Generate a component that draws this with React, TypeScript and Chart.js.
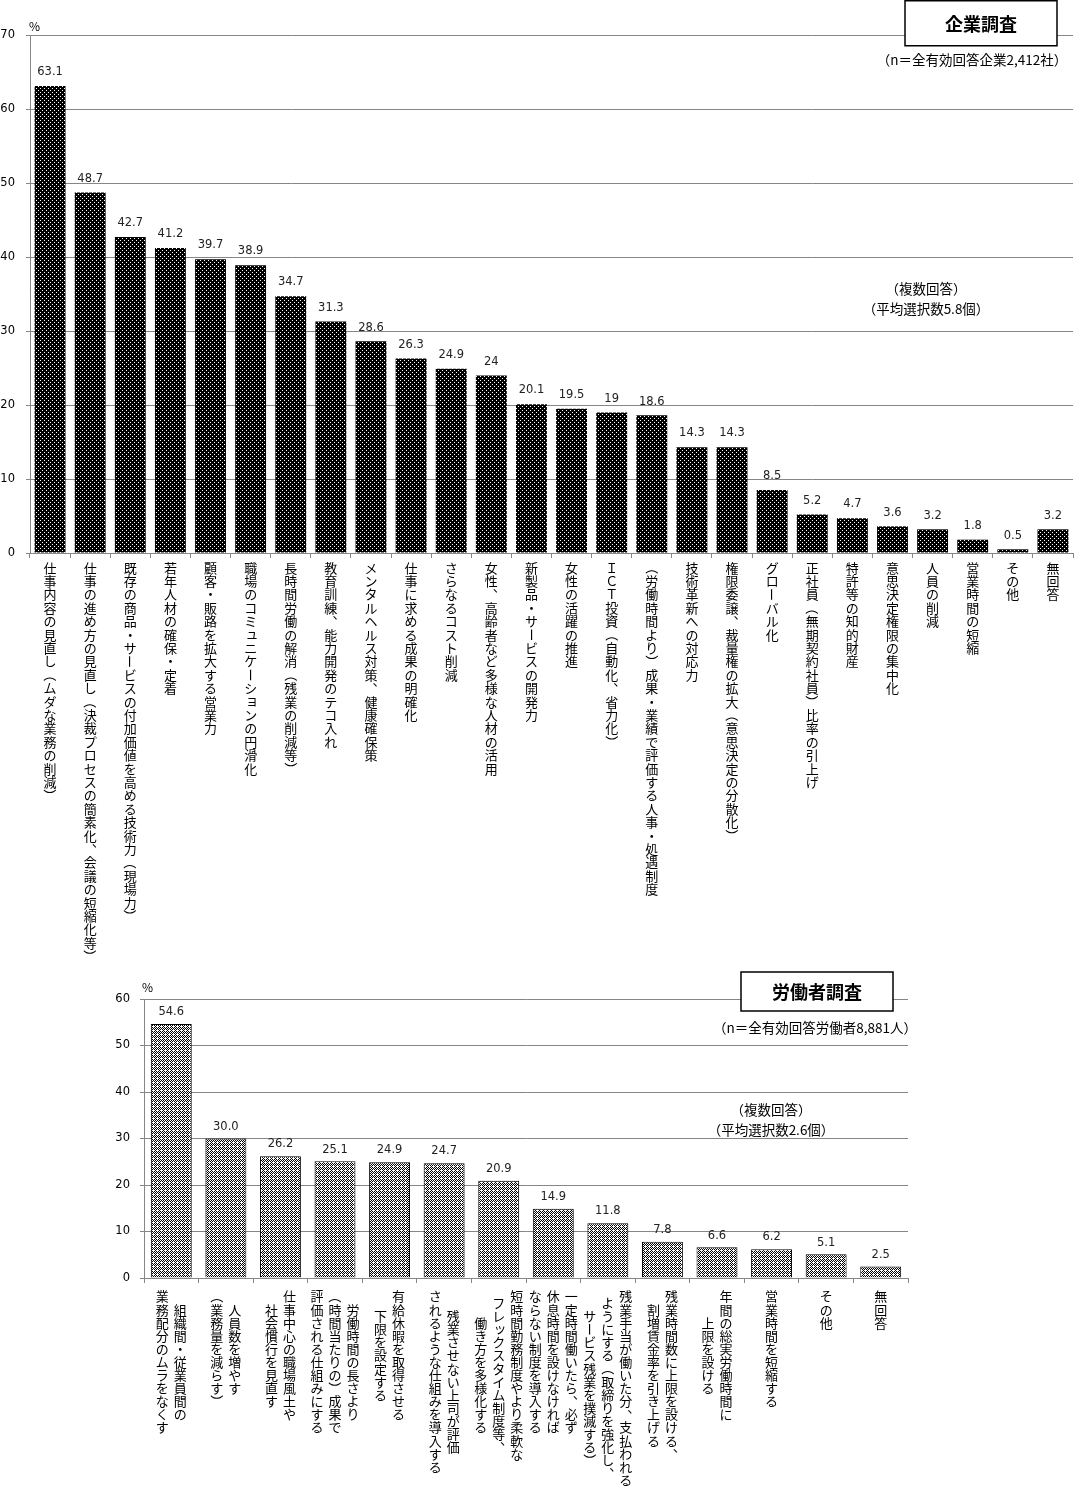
import React, { useEffect, useRef } from "react";
import { Chart, registerables } from "chart.js";

Chart.register(...registerables);

// ---------- DATA ----------
const topCategories: string[] = [
  "仕事内容の見直し（ムダな業務の削減）",
  "仕事の進め方の見直し（決裁プロセスの簡素化、会議の短縮化等）",
  "既存の商品・サービスの付加価値を高める技術力（現場力）",
  "若年人材の確保・定着",
  "顧客・販路を拡大する営業力",
  "職場のコミュニケーションの円滑化",
  "長時間労働の解消（残業の削減等）",
  "教育訓練、能力開発のテコ入れ",
  "メンタルヘルス対策、健康確保策",
  "仕事に求める成果の明確化",
  "さらなるコスト削減",
  "女性、高齢者など多様な人材の活用",
  "新製品・サービスの開発力",
  "女性の活躍の推進",
  "ＩＣＴ投資（自動化、省力化）",
  "（労働時間より）成果・業績で評価する人事・処遇制度",
  "技術革新への対応力",
  "権限委譲、裁量権の拡大（意思決定の分散化）",
  "グローバル化",
  "正社員（無期契約社員）比率の引上げ",
  "特許等の知的財産",
  "意思決定権限の集中化",
  "人員の削減",
  "営業時間の短縮",
  "その他",
  "無回答",
];
const topValues: number[] = [
  63.1, 48.7, 42.7, 41.2, 39.7, 38.9, 34.7, 31.3, 28.6, 26.3, 24.9, 24, 20.1,
  19.5, 19, 18.6, 14.3, 14.3, 8.5, 5.2, 4.7, 3.6, 3.2, 1.8, 0.5, 3.2,
];
const topAxisMax = 70;
const topAxisStep = 10;

const bottomCategories: string[][] = [
  ["組織間・従業員間の", "業務配分のムラをなくす"],
  ["人員数を増やす", "（業務量を減らす）"],
  ["仕事中心の職場風土や", "社会慣行を見直す"],
  ["労働時間の長さより", "（時間当たりの）成果で", "評価される仕組みにする"],
  ["有給休暇を取得させる", "下限を設定する"],
  ["残業させない上司が評価", "されるような仕組みを導入する"],
  ["短時間勤務制度やより柔軟な", "フレックスタイム制度等、", "働き方を多様化する"],
  ["一定時間働いたら、必ず", "休息時間を設けなければ", "ならない制度を導入する"],
  ["残業手当が働いた分、支払われる", "ようにする（取締りを強化し、", "サービス残業を撲滅する）"],
  ["残業時間数に上限を設ける、", "割増賃金率を引き上げる"],
  ["年間の総実労働時間に", "上限を設ける"],
  ["営業時間を短縮する"],
  ["その他"],
  ["無回答"],
];
const bottomValues: number[] = [
  54.6, 30.0, 26.2, 25.1, 24.9, 24.7, 20.9, 14.9, 11.8, 7.8, 6.6, 6.2, 5.1, 2.5,
];
const bottomAxisMax = 60;
const bottomAxisStep = 10;

const topTitle = "企業調査";
const topN = "（n＝全有効回答企業2,412社）";
const topNote1 = "（複数回答）";
const topNote2 = "（平均選択数5.8個）";
const bottomTitle = "労働者調査";
const bottomN = "（n＝全有効回答労働者8,881人）";
const bottomNote1 = "（複数回答）";
const bottomNote2 = "（平均選択数2.6個）";

// ---------- HELPERS ----------
const JP = '"Noto Sans CJK JP", "Noto Sans CJK SC", sans-serif';
const NUM = '"DejaVu Sans", sans-serif';
const GRID = "#868686";

const SMALL = new Set(Array.from("ァィゥェォッャュョヮぁぃぅぇぉっゃゅょゎ"));
const ROTATE = new Set(Array.from("ー（）「」～―－"));
const PUNCT = new Set(Array.from("、。，．"));

function drawVertical(ctx: CanvasRenderingContext2D, text: string, x: number, yTop: number, pitch: number) {
  let y = yTop;
  for (const ch of Array.from(text)) {
    const cy = y + pitch / 2;
    if (ROTATE.has(ch)) {
      ctx.save();
      ctx.translate(x, cy);
      ctx.rotate(Math.PI / 2);
      ctx.fillText(ch, 0, 0);
      ctx.restore();
    } else if (PUNCT.has(ch)) {
      ctx.fillText(ch, x + pitch * 0.6, cy - pitch * 0.6);
    } else if (SMALL.has(ch)) {
      ctx.fillText(ch, x + pitch * 0.1, cy - pitch * 0.1);
    } else {
      ctx.fillText(ch, x, cy);
    }
    y += pitch;
  }
}

function makePattern(kind: "dots" | "checker"): CanvasPattern | string {
  const c = document.createElement("canvas");
  c.width = 4;
  c.height = 4;
  const g = c.getContext("2d");
  if (!g) return "#000";
  const img = g.createImageData(4, 4);
  for (let y = 0; y < 4; y++) {
    for (let x = 0; x < 4; x++) {
      let white: boolean;
      if (kind === "dots") {
        white = (x === 0 && y === 0) || (x === 2 && y === 2);
      } else {
        white = (x + y) % 2 === 0 || (x === 1 && y === 2);
      }
      const i = (y * 4 + x) * 4;
      const v = white ? 255 : 0;
      img.data[i] = v;
      img.data[i + 1] = v;
      img.data[i + 2] = v;
      img.data[i + 3] = 255;
    }
  }
  g.putImageData(img, 0, 0);
  const p = g.createPattern(c, "repeat");
  return p || "#000";
}

type Extras = {
  labelTop: number;
  pitch: number;
  lineGap: number;
  lines: string[][];
  valueLabels: string[];
  valueGap: number;
  percent: { x: number; y: number };
  title: { text: string; x: number; y: number; w: number; h: number };
  notes: { text: string; x: number; y: number }[];
};

function makePlugin(ex: Extras) {
  return {
    id: "extras",
    afterDraw(chart: any) {
      const ctx: CanvasRenderingContext2D = chart.ctx;
      const xs = chart.scales.x;
      ctx.save();
      // vertical category labels
      ctx.fillStyle = "#000";
      ctx.font = `13px ${JP}`;
      ctx.textAlign = "center";
      ctx.textBaseline = "middle";
      ex.lines.forEach((lines, i) => {
        const cx = xs.getPixelForValue(i);
        const n = lines.length;
        const maxLen = Math.max(...lines.map((l) => Array.from(l).length));
        lines.forEach((line, j) => {
          const x = cx + ((n - 1) / 2 - j) * ex.lineGap;
          const off = ((maxLen - Array.from(line).length) / 2) * ex.pitch;
          drawVertical(ctx, line, x, ex.labelTop + off, ex.pitch);
        });
      });
      // value labels
      const meta = chart.getDatasetMeta(0);
      ctx.font = `11.5px ${NUM}`;
      ctx.fillStyle = "#222";
      ctx.textBaseline = "bottom";
      meta.data.forEach((bar: any, i: number) => {
        ctx.fillText(ex.valueLabels[i], bar.x, bar.y - ex.valueGap);
      });
      // percent sign
      ctx.font = `12px ${JP}`;
      ctx.fillStyle = "#000";
      ctx.textAlign = "left";
      ctx.textBaseline = "middle";
      ctx.fillText("%", ex.percent.x, ex.percent.y);
      // title box
      const t = ex.title;
      ctx.fillStyle = "#fff";
      ctx.fillRect(t.x, t.y, t.w, t.h);
      ctx.strokeStyle = "#000";
      ctx.lineWidth = 1.5;
      ctx.strokeRect(t.x, t.y, t.w, t.h);
      ctx.fillStyle = "#000";
      ctx.font = `bold 18px ${JP}`;
      ctx.textAlign = "center";
      ctx.fillText(t.text, t.x + t.w / 2, t.y + t.h / 2 + 1);
      // notes
      ctx.font = `13.5px ${JP}`;
      ex.notes.forEach((n) => ctx.fillText(n.text, n.x, n.y));
      ctx.restore();
    },
  };
}

function buildChart(
  canvas: HTMLCanvasElement,
  labels: string[],
  values: number[],
  fill: CanvasPattern | string,
  opts: {
    yMax: number;
    yStep: number;
    yWidth: number;
    xHeight: number;
    padTop: number;
    padRight: number;
    tickPad: number;
    bar: number;
    border: number;
  },
  ex: Extras
) {
  return new Chart(canvas, {
    type: "bar",
    data: {
      labels,
      datasets: [
        {
          data: values,
          backgroundColor: fill as any,
          borderColor: "#000",
          borderWidth: opts.border,
          barPercentage: opts.bar,
          categoryPercentage: 1,
        },
      ],
    },
    options: {
      animation: false,
      responsive: false,
      devicePixelRatio: 1,
      layout: { padding: { top: opts.padTop, right: opts.padRight, left: 0, bottom: 0 } },
      plugins: { legend: { display: false }, tooltip: { enabled: false } },
      scales: {
        x: {
          grid: {
            display: true,
            drawOnChartArea: false,
            drawTicks: true,
            tickLength: 5,
            color: GRID,
          },
          border: { display: true, color: GRID },
          ticks: { callback: () => "", autoSkip: false, maxRotation: 0 },
          afterFit: (s: any) => {
            s.height = opts.xHeight;
          },
        },
        y: {
          min: 0,
          max: opts.yMax,
          grid: { color: GRID, tickLength: 4, drawTicks: true },
          border: { display: true, color: GRID },
          ticks: {
            stepSize: opts.yStep,
            color: "#000",
            padding: opts.tickPad,
            font: { family: NUM, size: 11.5 },
          },
          afterFit: (s: any) => {
            s.width = opts.yWidth;
          },
        },
      },
    },
    plugins: [makePlugin(ex) as any],
  });
}

export default function App() {
  const topRef = useRef<HTMLCanvasElement>(null);
  const botRef = useRef<HTMLCanvasElement>(null);

  useEffect(() => {
    document.body.style.margin = "0";
    if (!topRef.current || !botRef.current) return;
    const c1 = buildChart(
      topRef.current,
      topCategories,
      topValues,
      makePattern("dots"),
      {
        yMax: topAxisMax,
        yStep: topAxisStep,
        yWidth: 30,
        xHeight: 960 - 553,
        padTop: 35,
        padRight: 1,
        tickPad: 11,
        bar: 0.77,
        border: 0,
      },
      {
        labelTop: 561,
        pitch: 13.4,
        lineGap: 18,
        lines: topCategories.map((c) => [c]),
        valueLabels: topValues.map((v) => String(v)),
        valueGap: 8,
        percent: { x: 29, y: 26 },
        title: { text: topTitle, x: 905, y: 0.75, w: 152, h: 45 },
        notes: [
          { text: topN, x: 972, y: 60 },
          { text: topNote1, x: 926, y: 289 },
          { text: topNote2, x: 926, y: 309 },
        ],
      }
    );
    const top2 = 960;
    const c2 = buildChart(
      botRef.current,
      bottomCategories.map((l) => l.join("")),
      bottomValues,
      makePattern("checker"),
      {
        yMax: bottomAxisMax,
        yStep: bottomAxisStep,
        yWidth: 144,
        xHeight: 526 - (1278 - top2),
        padTop: 999 - top2,
        padRight: 1074 - 908,
        tickPad: 10,
        bar: 0.75,
        border: 1,
      },
      {
        labelTop: 1290 - top2,
        pitch: 13.1,
        lineGap: 18,
        lines: bottomCategories,
        valueLabels: bottomValues.map((v) => v.toFixed(1)),
        valueGap: 6,
        percent: { x: 142, y: 987 - top2 },
        title: { text: bottomTitle, x: 741, y: 972 - top2, w: 152, h: 39 },
        notes: [
          { text: bottomN, x: 815, y: 1028 - top2 },
          { text: bottomNote1, x: 771, y: 1110 - top2 },
          { text: bottomNote2, x: 771, y: 1130 - top2 },
        ],
      }
    );
    return () => {
      c1.destroy();
      c2.destroy();
    };
  }, []);

  return (
    <div style={{ position: "absolute", left: 0, top: 0, width: 1074, height: 1486, background: "#fff" }}>
      <canvas ref={topRef} width={1074} height={960} style={{ position: "absolute", left: 0, top: 0, display: "block" }} />
      <canvas ref={botRef} width={1074} height={526} style={{ position: "absolute", left: 0, top: 960, display: "block" }} />
    </div>
  );
}
